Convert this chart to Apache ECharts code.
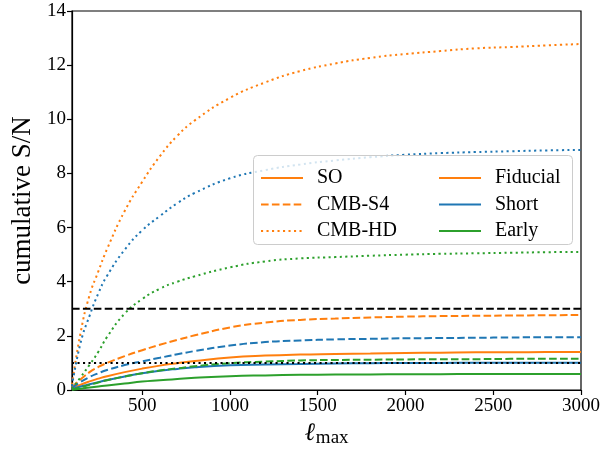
<!DOCTYPE html>
<html>
<head>
<meta charset="utf-8">
<script src="https://cdn.jsdelivr.net/npm/echarts@6/dist/echarts.min.js"></script>
<style>
  html, body { margin: 0; padding: 0; background: #fff; }
  #chart { width: 603px; height: 451px; }
</style>
</head>
<body>
<div id="chart"></div>
<script>
// multipole cut-off
const ell = [100, 150, 200, 250, 300, 400, 500, 600, 700, 800, 1000, 1200, 1400, 1600, 1800, 2000, 2200, 2400, 2600, 2800, 3000];

// cumulative S/N per experiment and scenario
const hdFiducial = [0.2, 2.15, 3.5, 4.38, 5.21, 6.61, 7.69, 8.63, 9.39, 9.96, 10.79, 11.36, 11.78, 12.06, 12.27, 12.41, 12.52, 12.62, 12.67, 12.73, 12.78];
const hdShort    = [0.15, 1.77, 2.74, 3.57, 4.22, 5.18, 5.9, 6.42, 6.9, 7.28, 7.82, 8.12, 8.33, 8.48, 8.6, 8.69, 8.75, 8.79, 8.82, 8.85, 8.87];
const hdEarly    = [0.05, 0.48, 0.93, 1.41, 1.96, 2.82, 3.36, 3.74, 4.0, 4.2, 4.53, 4.75, 4.86, 4.91, 4.96, 5.0, 5.03, 5.05, 5.07, 5.09, 5.1];
const s4Fiducial = [0.1, 0.4, 0.66, 0.85, 1.0, 1.25, 1.47, 1.67, 1.85, 2.02, 2.31, 2.49, 2.59, 2.64, 2.68, 2.71, 2.73, 2.74, 2.75, 2.76, 2.77];
const s4Short    = [0.08, 0.3, 0.48, 0.62, 0.74, 0.92, 1.06, 1.19, 1.32, 1.44, 1.64, 1.77, 1.83, 1.87, 1.89, 1.91, 1.92, 1.93, 1.94, 1.95, 1.95];
const s4Early    = [0.02, 0.1, 0.19, 0.28, 0.36, 0.5, 0.62, 0.72, 0.8, 0.88, 0.99, 1.05, 1.09, 1.11, 1.12, 1.13, 1.14, 1.14, 1.15, 1.15, 1.15];
const soFiducial = [0.05, 0.2, 0.32, 0.42, 0.51, 0.66, 0.79, 0.9, 0.99, 1.07, 1.2, 1.27, 1.31, 1.33, 1.35, 1.37, 1.38, 1.39, 1.39, 1.4, 1.4];
const soShort    = [0.03, 0.13, 0.21, 0.29, 0.37, 0.5, 0.62, 0.71, 0.78, 0.84, 0.91, 0.94, 0.96, 0.98, 0.99, 1.0, 1.0, 1.01, 1.01, 1.01, 1.01];
const soEarly    = [0.01, 0.05, 0.09, 0.13, 0.17, 0.24, 0.31, 0.36, 0.41, 0.45, 0.51, 0.54, 0.56, 0.57, 0.575, 0.58, 0.585, 0.59, 0.59, 0.59, 0.59];

// detection thresholds
const thresholdDashed = 3;
const thresholdDotted = 1;

// axis ticks
const xTicks = [500, 1000, 1500, 2000, 2500, 3000];
const xRange = [100, 3000];
const yRange = [0, 14];
const yStep = 2;

const experimentNames = ['SO', 'CMB-S4', 'CMB-HD'];
const scenarioNames = ['Fiducial', 'Short', 'Early'];

const FONT = '"Liberation Serif", "DejaVu Serif", serif';
const ORANGE = '#ff7f0e', BLUE = '#1f77b4', GREEN = '#2ca02c';
const DASHED = [7.6, 3.3];
const DOTTED = [2.1, 3.4];

const curves = [
  { name: 'SO Fiducial', y: soFiducial, color: ORANGE, type: 'solid' },
  { name: 'SO Short', y: soShort, color: BLUE, type: 'solid' },
  { name: 'SO Early', y: soEarly, color: GREEN, type: 'solid' },
  { name: 'CMB-S4 Fiducial', y: s4Fiducial, color: ORANGE, type: DASHED },
  { name: 'CMB-S4 Short', y: s4Short, color: BLUE, type: DASHED },
  { name: 'CMB-S4 Early', y: s4Early, color: GREEN, type: DASHED },
  { name: 'CMB-HD Fiducial', y: hdFiducial, color: ORANGE, type: DOTTED },
  { name: 'CMB-HD Short', y: hdShort, color: BLUE, type: DOTTED },
  { name: 'CMB-HD Early', y: hdEarly, color: GREEN, type: DOTTED }
];

const series = curves.map(c => ({
  name: c.name,
  type: 'line',
  data: ell.map((x, i) => [x, c.y[i]]),
  smooth: 0.5,
  symbol: 'none',
  lineStyle: { color: c.color, width: 2, type: c.type, cap: 'butt' },
  z: 3
}));

// horizontal threshold lines
series.push({
  name: 'S/N = 3', type: 'line', symbol: 'none', z: 4,
  data: [[xRange[0], thresholdDashed], [xRange[1], thresholdDashed]],
  lineStyle: { color: '#000', width: 2, type: DASHED, cap: 'butt' }
});
series.push({
  name: 'S/N = 1', type: 'line', symbol: 'none', z: 4,
  data: [[xRange[0], thresholdDotted], [xRange[1], thresholdDotted]],
  lineStyle: { color: '#000', width: 2, type: DOTTED, cap: 'butt' }
});

// legend proxies: line style per experiment, colour per scenario
const expStyles = ['solid', DASHED, DOTTED];
experimentNames.forEach((n, i) => series.push({
  name: n, type: 'line', data: [], symbol: 'none',
  lineStyle: { color: ORANGE, width: 2, type: expStyles[i], cap: 'butt' }, itemStyle: { color: ORANGE }
}));
const scenColors = [ORANGE, BLUE, GREEN];
scenarioNames.forEach((n, i) => series.push({
  name: n, type: 'line', data: [], symbol: 'none',
  lineStyle: { color: scenColors[i], width: 2, type: 'solid' }, itemStyle: { color: scenColors[i] }
}));

const legendBase = {
  orient: 'vertical',
  top: 163,
  itemWidth: 42,
  itemHeight: 14,
  itemGap: 6.5,
  selectedMode: false,
  z: 20,
  itemStyle: { opacity: 0 },
  textStyle: { fontFamily: FONT, fontSize: 20, color: '#000', lineHeight: 20, padding: [0, 0, 0, 9] }
};

const chart = echarts.init(document.getElementById('chart'), null, { renderer: 'canvas' });
chart.setOption({
  animation: false,
  backgroundColor: '#fff',
  grid: {
    left: 72, right: 22, top: 11, bottom: 61,
    outerBoundsMode: 'none', containLabel: false,
    show: true, borderColor: '#000', borderWidth: 1.2, backgroundColor: 'transparent'
  },
  xAxis: {
    type: 'value', min: xRange[0], max: xRange[1],
    name: '{l|ℓ}{s|max}', nameLocation: 'middle', nameGap: 29,
    nameTextStyle: {
      rich: {
        l: { fontFamily: '"DejaVu Serif", serif', fontStyle: 'italic', fontSize: 25, color: '#000' },
        s: { fontFamily: FONT, fontSize: 19, color: '#000', padding: [9, 0, 0, 1] }
      }
    },
    axisLine: { show: true, lineStyle: { color: '#000', width: 1.2 } },
    axisTick: { show: true, length: 5, lineStyle: { color: '#000', width: 1.2 }, customValues: xTicks },
    axisLabel: { fontFamily: FONT, fontSize: 19, color: '#000', margin: 7, customValues: xTicks, formatter: v => String(v) },
    splitLine: { show: false }
  },
  yAxis: {
    type: 'value', min: yRange[0], max: yRange[1], interval: yStep,
    name: 'cumulative S/N', nameLocation: 'middle', nameGap: 36,
    nameTextStyle: { fontFamily: FONT, fontSize: 27, color: '#000' },
    axisLine: { show: true, lineStyle: { color: '#000', width: 1.2 } },
    axisTick: { show: true, length: 5, lineStyle: { color: '#000', width: 1.2 } },
    axisLabel: { fontFamily: FONT, fontSize: 19, color: '#000', margin: 6 },
    splitLine: { show: false }
  },
  legend: [
    Object.assign({}, legendBase, { left: 255, data: experimentNames }),
    Object.assign({}, legendBase, { left: 433, data: scenarioNames })
  ],
  graphic: [{
    type: 'rect', z: 10,
    shape: { x: 253.5, y: 155.5, width: 319, height: 89, r: 4 },
    style: { fill: 'rgba(255,255,255,0.8)', stroke: '#cccccc', lineWidth: 1 }
  }],
  series: series
});
</script>
</body>
</html>
